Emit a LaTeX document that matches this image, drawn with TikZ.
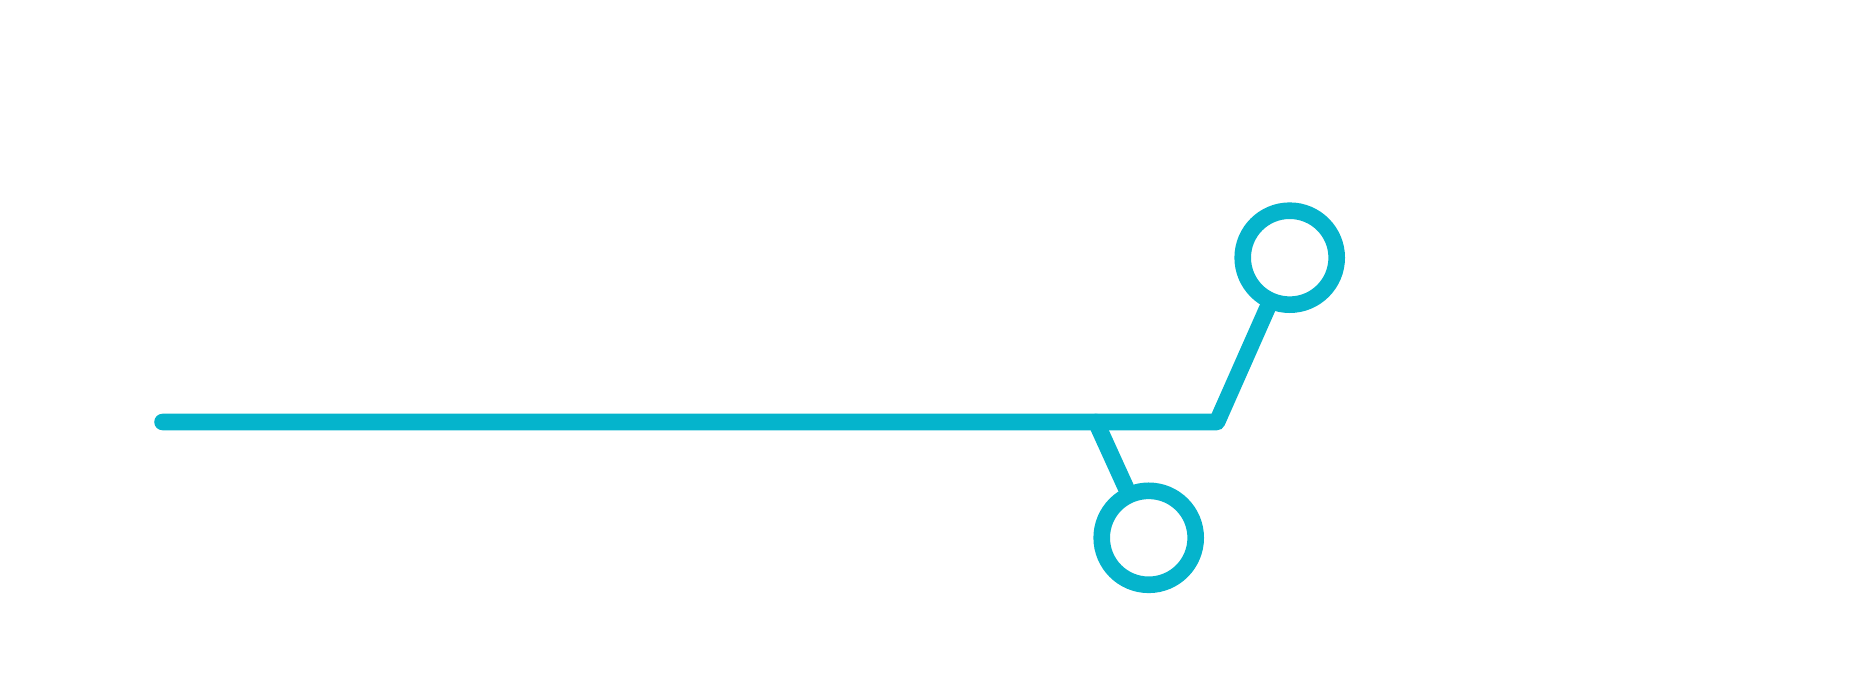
\documentclass[tikz,border=0pt]{standalone}
\definecolor{tealc}{RGB}{5,180,204}
\begin{document}
\begin{tikzpicture}[x=1cm,y=1cm,
  conn/.style={draw=tealc, line width=0.166cm, line cap=round, line join=round},
  ring/.style={circle, draw=tealc, line width=0.166cm, minimum size=0.94cm, inner sep=0pt, fill=white}]
\useasboundingbox (0,0) rectangle (18.59,6.81);
\coordinate (L) at (1.625,2.59);
\coordinate (V) at (12.17,2.59);
\coordinate (B) at (10.96,2.59);
\node[ring] (up) at (12.897,4.233) {};
\node[ring] (down) at (11.487,1.432) {};
\draw[conn] (L) -- (V) -- (up);
\draw[conn] (B) -- (down);
\end{tikzpicture}
\end{document}
